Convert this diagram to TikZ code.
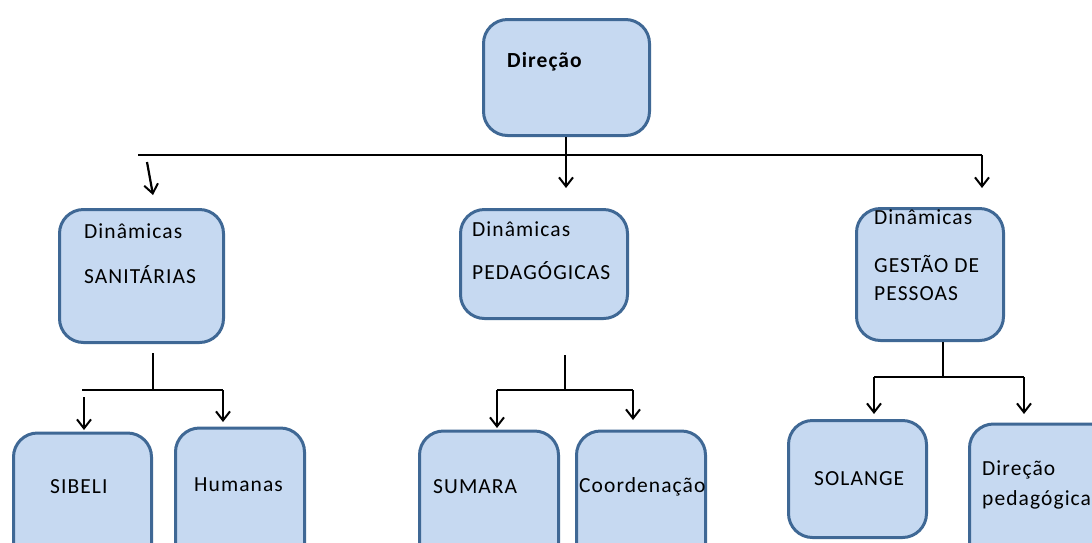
\documentclass[tikz,border=0pt]{standalone}
\usepackage{fontspec}
\setmainfont{Carlito}[LetterSpace=5]
\usetikzlibrary{arrows.meta}
\definecolor{boxfill}{HTML}{C6D9F1}
\definecolor{boxline}{HTML}{3F6895}
\begin{document}
\begin{tikzpicture}[x=1pt,y=-1pt,
  box/.style={draw=boxline, fill=boxfill, line width=3pt, rounded corners=24pt, rectangle, inner sep=0pt},
  lbl/.style={anchor=base west, inner sep=0pt, font=\fontsize{21.5}{26}\selectfont},
  conn/.style={line width=2.2pt, draw=black},
  arr/.style={conn, -{Straight Barb[length=9pt,width=14pt,line width=2pt]}},
]
\clip (0,0) rectangle (1092,542);
\fill[white] (0,0) rectangle (1092,542);
% boxes
\node[box, minimum width=166pt, minimum height=116pt] (dir) at (566.5,77.5) {};
\node[box, minimum width=164pt, minimum height=133pt] (san) at (141.5,276) {};
\node[box, minimum width=167pt, minimum height=109pt] (ped) at (544,264) {};
\node[box, minimum width=147pt, minimum height=132pt] (ges) at (930,274.5) {};
\node[box, minimum width=138pt, minimum height=140pt] (sib) at (82.5,503) {};
\node[box, minimum width=129pt, minimum height=146pt] (hum) at (240,501) {};
\node[box, minimum width=139pt, minimum height=140pt] (sum) at (489,501) {};
\node[box, minimum width=129pt, minimum height=140pt] (coo) at (641,501) {};
\node[box, minimum width=138pt, minimum height=117pt] (sol) at (857.5,479) {};
\node[box, minimum width=144pt, minimum height=146pt] (dpe) at (1041.5,497) {};
% labels
\node[lbl, font=\fontsize{21.5}{26}\selectfont\bfseries] (tdir) at (507,67) {Direção};
\node[lbl] (tsan1) at (84,238) {Dinâmicas};
\node[lbl] (tsan2) at (84,283) {SANITÁRIAS};
\node[lbl] (tped1) at (472,236) {Dinâmicas};
\node[lbl] (tped2) at (472,279) {PEDAGÓGICAS};
\node[lbl] (tges1) at (874,224) {Dinâmicas};
\node[lbl] (tges2) at (874,272) {GESTÃO DE};
\node[lbl] (tges3) at (874,300) {PESSOAS};
\node[lbl] (tsib) at (50,493) {SIBELI};
\node[lbl] (thum) at (194,491) {Humanas};
\node[lbl] (tsum) at (433,493) {SUMARA};
\node[lbl] (tcoo) at (579,492) {Coordenação};
\node[lbl] (tsol) at (814,485) {SOLANGE};
\node[lbl] (tdpe1) at (982,475) {Direção};
\node[lbl] (tdpe2) at (982,505) {pedagógica};
% junction coordinates
\coordinate (hL) at (138,155);
\coordinate (hC) at (566,155);
\coordinate (hR) at (982,155);
\coordinate (aC) at (566,188);
\coordinate (aR) at (982,188);
\coordinate (sL0) at (147,162);
\coordinate (sL1) at (153,195);
% top level
\draw[conn, line width=2.6pt] (hL) -- (hR);
\draw[arr] (dir.south -| hC) -- (aC);
\draw[arr] (hR) -- (aR);
\draw[arr] (sL0) -- (sL1);
% left group
\coordinate (l0) at (153,353);
\coordinate (l1) at (153,390);
\coordinate (lA) at (82,390);
\coordinate (lB) at (223,390);
\draw[conn] (l0) -- (l1);
\draw[conn] (lA) -- (lB);
\draw[arr] (lB) -- (223,422);
\draw[arr] (84,397) -- (84,430);
% middle group
\coordinate (m0) at (565,355);
\coordinate (m1) at (565,390);
\coordinate (mA) at (497,390);
\coordinate (mB) at (633,390);
\draw[conn] (m0) -- (m1);
\draw[conn] (mA) -- (mB);
\draw[arr] (mA) -- (497,428);
\draw[arr] (mB) -- (633,420);
% right group
\coordinate (r1) at (943,377);
\coordinate (rA) at (874,377);
\coordinate (rB) at (1024,377);
\draw[conn] (ges.south -| r1) -- (r1);
\draw[conn] (rA) -- (rB);
\draw[arr] (rA) -- (874,414);
\draw[arr] (rB) -- (1024,414);
\end{tikzpicture}
\end{document}
